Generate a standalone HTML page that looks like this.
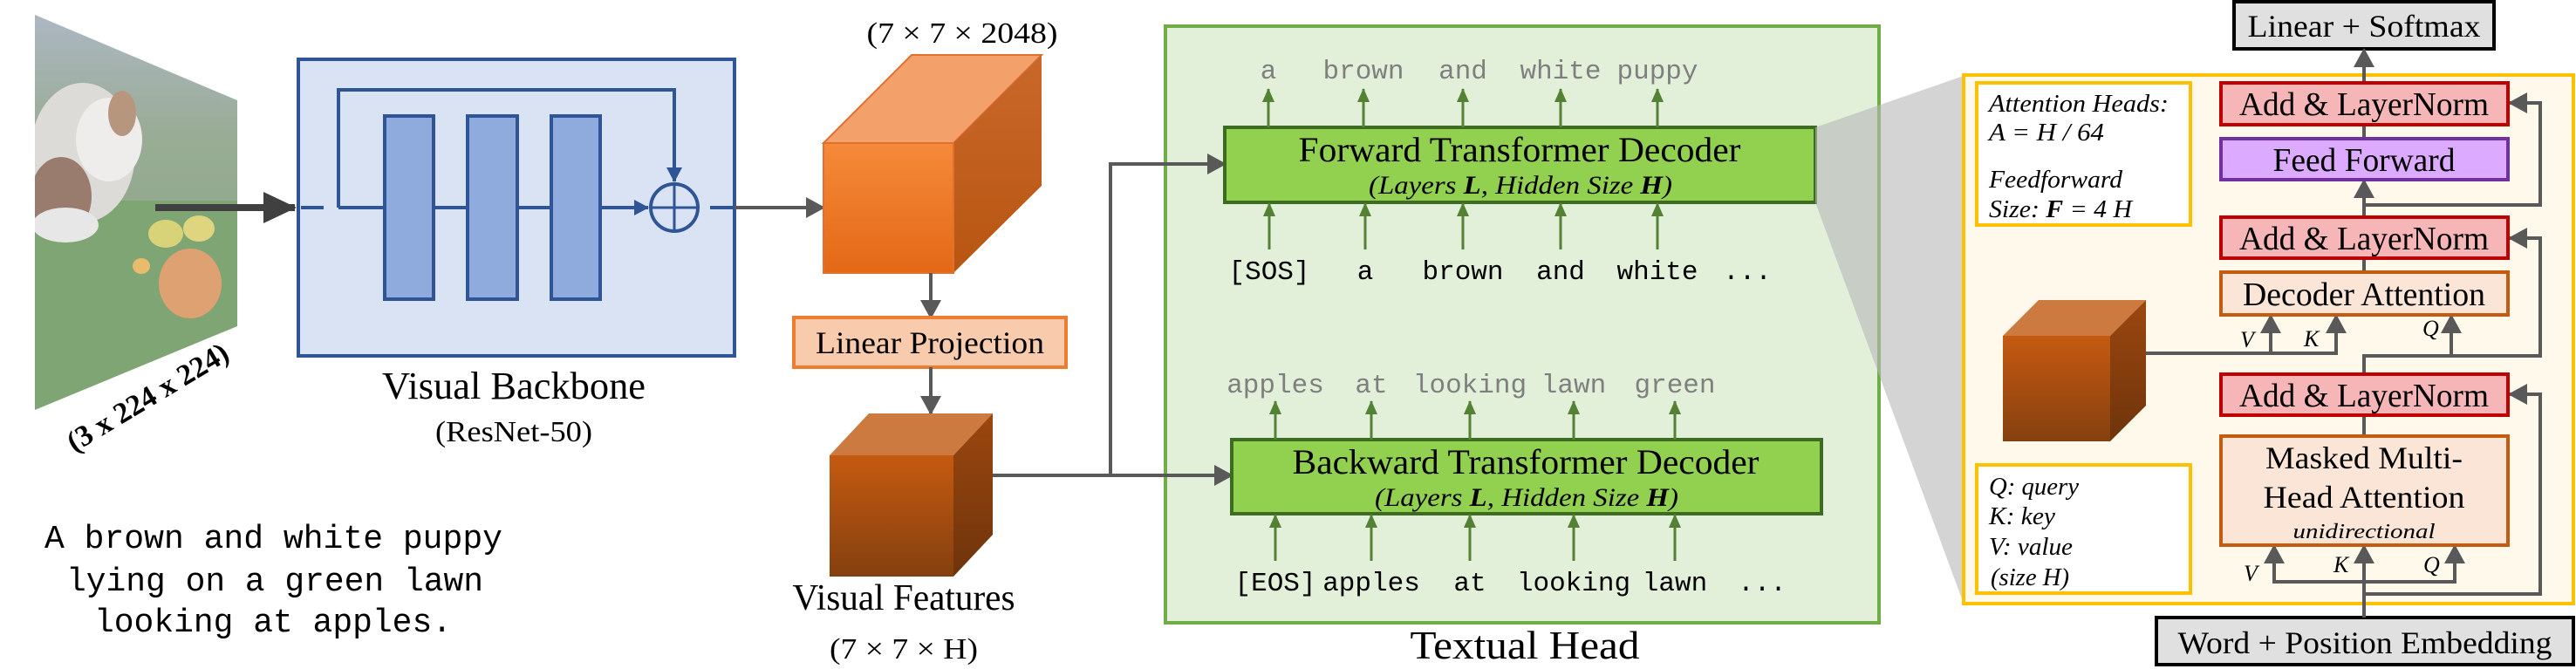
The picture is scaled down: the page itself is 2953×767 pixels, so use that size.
<!DOCTYPE html>
<html><head><meta charset="utf-8"><style>html,body{margin:0;padding:0;background:#fff}svg{display:block}</style></head>
<body>
<svg xmlns="http://www.w3.org/2000/svg" width="2953" height="767" viewBox="0 0 2953 767">
<defs>
<marker id="ag" markerUnits="userSpaceOnUse" markerWidth="24" markerHeight="24" refX="20" refY="12" orient="auto"><path d="M0,0 L22,12 L0,24 Z" fill="#595959"/></marker>
<marker id="ab" markerUnits="userSpaceOnUse" markerWidth="18" markerHeight="18" refX="16" refY="9" orient="auto"><path d="M0,0 L17,9 L0,18 Z" fill="#2f5597"/></marker>
<marker id="agn" markerUnits="userSpaceOnUse" markerWidth="16" markerHeight="16" refX="15" refY="8" orient="auto"><path d="M0,1 L16,8 L0,15 Z" fill="#548235"/></marker>
<marker id="abig" markerUnits="userSpaceOnUse" markerWidth="40" markerHeight="40" refX="36" refY="20" orient="auto"><path d="M0,2 L38,20 L0,38 Z" fill="#404040"/></marker>
<linearGradient id="cf1" x1="0" y1="0" x2="0" y2="1"><stop offset="0" stop-color="#f58a3a"/><stop offset="1" stop-color="#e36816"/></linearGradient>
<linearGradient id="cs1" x1="0" y1="0" x2="0" y2="1"><stop offset="0" stop-color="#c9682a"/><stop offset="1" stop-color="#b85512"/></linearGradient>
<linearGradient id="cf2" x1="0" y1="0" x2="0" y2="1"><stop offset="0" stop-color="#c55a11"/><stop offset="1" stop-color="#84400f"/></linearGradient>
<linearGradient id="cs2" x1="0" y1="0" x2="0" y2="1"><stop offset="0" stop-color="#9c470f"/><stop offset="1" stop-color="#6e340b"/></linearGradient>
<linearGradient id="sky" x1="0" y1="0" x2="0" y2="1"><stop offset="0" stop-color="#8a98a8"/><stop offset="0.3" stop-color="#6f8a6a"/><stop offset="1" stop-color="#4f7a45"/></linearGradient>
<clipPath id="pc"><polygon points="40,17 272,115 272,374 40,470"/></clipPath>
</defs>

<!-- photo -->
<g clip-path="url(#pc)" opacity="0.7">
<rect x="40" y="17" width="232" height="453" fill="url(#sky)"/>
<rect x="40" y="230" width="232" height="240" fill="#4a7f3a"/>
<ellipse cx="95" cy="175" rx="60" ry="80" fill="#cfccc8"/>
<ellipse cx="70" cy="225" rx="35" ry="45" fill="#6e4630"/>
<ellipse cx="125" cy="160" rx="38" ry="48" fill="#e8e6e4"/>
<ellipse cx="140" cy="130" rx="16" ry="26" fill="#9a6a48"/>
<ellipse cx="75" cy="258" rx="38" ry="20" fill="#dddddd"/>
<ellipse cx="190" cy="268" rx="20" ry="16" fill="#c8c040"/>
<ellipse cx="228" cy="262" rx="18" ry="15" fill="#d0c448"/>
<ellipse cx="218" cy="325" rx="36" ry="40" fill="#d07a36"/>
<ellipse cx="162" cy="305" rx="10" ry="9" fill="#e0a030"/>
</g>
<text transform="translate(175,465) rotate(-31)" text-anchor="middle" font-family="Liberation Serif, serif" font-weight="bold" font-size="34">(3 x 224 x 224)</text>

<!-- big arrow -->
<line x1="178" y1="238" x2="338" y2="238" stroke="#404040" stroke-width="8" marker-end="url(#abig)"/>

<!-- backbone -->
<rect x="342" y="68" width="500" height="340" fill="#dae3f3" stroke="#2f5597" stroke-width="4"/>
<line x1="345" y1="238" x2="371" y2="238" stroke="#2f5597" stroke-width="4"/>
<polyline points="388,238 388,103 773,103 773,208" fill="none" stroke="#2f5597" stroke-width="4" marker-end="url(#ab)"/>
<line x1="388" y1="238" x2="743" y2="238" stroke="#2f5597" stroke-width="4" marker-end="url(#ab)"/>
<rect x="441" y="133" width="56" height="210" fill="#8faadc" stroke="#2f5597" stroke-width="4"/>
<rect x="536" y="133" width="57" height="210" fill="#8faadc" stroke="#2f5597" stroke-width="4"/>
<rect x="632" y="133" width="56" height="210" fill="#8faadc" stroke="#2f5597" stroke-width="4"/>
<circle cx="773" cy="238" r="27" fill="#dae3f3" stroke="#2f5597" stroke-width="4"/>
<line x1="773" y1="211" x2="773" y2="265" stroke="#2f5597" stroke-width="3"/>
<line x1="746" y1="238" x2="800" y2="238" stroke="#2f5597" stroke-width="3"/>
<line x1="814" y1="238" x2="842" y2="238" stroke="#2f5597" stroke-width="4"/>
<line x1="842" y1="238" x2="944" y2="238" stroke="#595959" stroke-width="4" marker-end="url(#ag)"/>
<text x="589" y="457" text-anchor="middle" font-family="Liberation Serif, serif" font-size="44" textLength="302" lengthAdjust="spacingAndGlyphs">Visual Backbone</text>
<text x="589" y="506" text-anchor="middle" font-family="Liberation Serif, serif" font-size="34" textLength="180" lengthAdjust="spacingAndGlyphs">(ResNet-50)</text>

<!-- cube 1 -->
<text x="1103" y="49" text-anchor="middle" font-family="Liberation Serif, serif" font-size="34" textLength="219" lengthAdjust="spacingAndGlyphs">(7 × 7 × 2048)</text>
<polygon points="944,164 1093,164 1194,63 1045,63" fill="#f4a06a" stroke="#e07030" stroke-width="2"/>
<polygon points="1093,164 1194,63 1194,213 1093,313" fill="url(#cs1)"/>
<rect x="944" y="164" width="149" height="149" fill="url(#cf1)" stroke="#e07030" stroke-width="2"/>
<line x1="1067" y1="313" x2="1067" y2="364" stroke="#595959" stroke-width="4" marker-end="url(#ag)"/>
<rect x="910" y="364" width="312" height="57" fill="#f8cbad" stroke="#ed7d31" stroke-width="4"/>
<text x="1066" y="405" text-anchor="middle" font-family="Liberation Serif, serif" font-size="36" textLength="262" lengthAdjust="spacingAndGlyphs">Linear Projection</text>
<line x1="1067" y1="421" x2="1067" y2="474" stroke="#595959" stroke-width="4" marker-end="url(#ag)"/>

<!-- cube 2 -->
<polygon points="951,522 1093,522 1138,474 996,474" fill="#cd7a40"/>
<polygon points="1093,522 1138,474 1138,613 1093,661" fill="url(#cs2)"/>
<rect x="951" y="522" width="142" height="139" fill="url(#cf2)"/>
<text x="1036" y="699" text-anchor="middle" font-family="Liberation Serif, serif" font-size="42" textLength="255" lengthAdjust="spacingAndGlyphs">Visual Features</text>
<text x="1036" y="755" text-anchor="middle" font-family="Liberation Serif, serif" font-size="34" textLength="170" lengthAdjust="spacingAndGlyphs">(7 × 7 × H)</text>

<!-- caption -->
<g font-family="Liberation Mono, DejaVu Sans Mono, monospace" font-size="38" fill="#000">
<text x="51" y="628" textLength="525" lengthAdjust="spacingAndGlyphs">A brown and white puppy</text>
<text x="76" y="677" textLength="478" lengthAdjust="spacingAndGlyphs">lying on a green lawn</text>
<text x="108" y="724" textLength="410" lengthAdjust="spacingAndGlyphs">looking at apples.</text>
</g>

<!-- Textual head -->
<rect x="1336" y="30" width="818" height="684" fill="#e2efd9" stroke="#70ad47" stroke-width="4"/>
<text x="1748" y="755" text-anchor="middle" font-family="Liberation Serif, serif" font-size="46" textLength="263" lengthAdjust="spacingAndGlyphs">Textual Head</text>
<polyline points="1138,545 1273,545" fill="none" stroke="#595959" stroke-width="4"/>
<polyline points="1273,545 1273,188 1404,188" fill="none" stroke="#595959" stroke-width="4" marker-end="url(#ag)"/>
<line x1="1273" y1="545" x2="1412" y2="545" stroke="#595959" stroke-width="4" marker-end="url(#ag)"/>

<rect x="1404" y="146" width="677" height="86" fill="#92d050" stroke="#3d6b21" stroke-width="4"/>
<text x="1742" y="185" text-anchor="middle" font-family="Liberation Serif, serif" font-size="40" textLength="507" lengthAdjust="spacingAndGlyphs">Forward Transformer Decoder</text>
<text x="1743" y="222" text-anchor="middle" font-family="Liberation Serif, serif" font-style="italic" font-size="30" textLength="348" lengthAdjust="spacingAndGlyphs">(Layers <tspan font-weight="bold">L</tspan>, Hidden Size <tspan font-weight="bold">H</tspan>)</text>
<rect x="1412" y="504" width="676" height="85" fill="#92d050" stroke="#3d6b21" stroke-width="4"/>
<text x="1749" y="543" text-anchor="middle" font-family="Liberation Serif, serif" font-size="40" textLength="535" lengthAdjust="spacingAndGlyphs">Backward Transformer Decoder</text>
<text x="1750" y="580" text-anchor="middle" font-family="Liberation Serif, serif" font-style="italic" font-size="30" textLength="348" lengthAdjust="spacingAndGlyphs">(Layers <tspan font-weight="bold">L</tspan>, Hidden Size <tspan font-weight="bold">H</tspan>)</text>

<g stroke="#548235" stroke-width="3" marker-end="url(#agn)">
<line x1="1454" y1="146" x2="1454" y2="102"/><line x1="1563" y1="146" x2="1563" y2="102"/><line x1="1677" y1="146" x2="1677" y2="102"/><line x1="1789" y1="146" x2="1789" y2="102"/><line x1="1900" y1="146" x2="1900" y2="102"/>
<line x1="1455" y1="286" x2="1455" y2="233"/><line x1="1565" y1="286" x2="1565" y2="233"/><line x1="1677" y1="286" x2="1677" y2="233"/><line x1="1789" y1="286" x2="1789" y2="233"/><line x1="1900" y1="286" x2="1900" y2="233"/>
<line x1="1462" y1="504" x2="1462" y2="460"/><line x1="1572" y1="504" x2="1572" y2="460"/><line x1="1685" y1="504" x2="1685" y2="460"/><line x1="1804" y1="504" x2="1804" y2="460"/><line x1="1920" y1="504" x2="1920" y2="460"/>
<line x1="1462" y1="643" x2="1462" y2="590"/><line x1="1572" y1="643" x2="1572" y2="590"/><line x1="1685" y1="643" x2="1685" y2="590"/><line x1="1804" y1="643" x2="1804" y2="590"/><line x1="1920" y1="643" x2="1920" y2="590"/>
</g>
<g font-family="Liberation Mono, DejaVu Sans Mono, monospace" font-size="31" text-anchor="middle">
<g fill="#7f7f7f">
<text x="1454" y="90">a</text><text x="1563" y="90">brown</text><text x="1677" y="90">and</text><text x="1789" y="90">white</text><text x="1900" y="90">puppy</text>
<text x="1462" y="450">apples</text><text x="1572" y="450">at</text><text x="1685" y="450">looking</text><text x="1804" y="450">lawn</text><text x="1920" y="450">green</text>
</g>
<g fill="#000">
<text x="1455" y="320">[SOS]</text><text x="1565" y="320">a</text><text x="1677" y="320">brown</text><text x="1789" y="320">and</text><text x="1900" y="320">white</text><text x="2003" y="320">...</text>
<text x="1462" y="677">[EOS]</text><text x="1572" y="677">apples</text><text x="1685" y="677">at</text><text x="1804" y="677">looking</text><text x="1920" y="677">lawn</text><text x="2020" y="677">...</text>
</g>
</g>

<!-- zoom lens -->
<polygon points="2081,146 2251,87 2251,692 2081,232" fill="#b8b8b8" opacity="0.6"/>

<!-- decoder detail -->
<rect x="2251" y="86" width="699" height="606" fill="#fff9ec" stroke="#ffc000" stroke-width="4"/>
<rect x="2561" y="2" width="298" height="54" fill="#e0e0e0" stroke="#000" stroke-width="4"/>
<text x="2710" y="42" text-anchor="middle" font-family="Liberation Serif, serif" font-size="36" textLength="267" lengthAdjust="spacingAndGlyphs">Linear + Softmax</text>
<rect x="2472" y="708" width="478" height="54" fill="#e0e0e0" stroke="#000" stroke-width="4"/>
<text x="2711" y="749" text-anchor="middle" font-family="Liberation Serif, serif" font-size="36" textLength="429" lengthAdjust="spacingAndGlyphs">Word + Position Embedding</text>

<g fill="none" stroke="#595959" stroke-width="4">
<line x1="2710" y1="95" x2="2710" y2="57" marker-end="url(#ag)"/>
<line x1="2710" y1="159" x2="2710" y2="143"/>
<line x1="2710" y1="249" x2="2710" y2="207" marker-end="url(#ag)"/>
<polyline points="2710,235 2912,235 2912,118 2877,118" marker-end="url(#ag)"/>
<line x1="2710" y1="312" x2="2710" y2="296"/>
<polyline points="2710,429 2710,408 2810,408 2810,362" marker-end="url(#ag)"/>
<polyline points="2810,408 2912,408 2912,273 2877,273" marker-end="url(#ag)"/>
<line x1="2710" y1="500" x2="2710" y2="476"/>
<line x1="2710" y1="708" x2="2710" y2="626" marker-end="url(#ag)"/>
<polyline points="2710,681 2912,681 2912,452 2877,452" marker-end="url(#ag)"/>
<polyline points="2607,626 2607,667 2814,667 2814,626" marker-end="url(#ag)"/>
<line x1="2607" y1="640" x2="2607" y2="626" marker-end="url(#ag)"/>
<polyline points="2460,405 2678,405 2678,362" marker-end="url(#ag)"/>
<line x1="2603" y1="405" x2="2603" y2="362" marker-end="url(#ag)"/>
</g>

<g font-family="Liberation Serif, serif" text-anchor="middle">
<rect x="2546" y="95" width="329" height="48" fill="#f6b5b7" stroke="#c00000" stroke-width="4"/>
<text x="2710" y="132" font-size="38" textLength="286" lengthAdjust="spacingAndGlyphs">Add &amp; LayerNorm</text>
<rect x="2546" y="159" width="329" height="47" fill="#dcaaff" stroke="#7030a0" stroke-width="4"/>
<text x="2710" y="196" font-size="38" textLength="209" lengthAdjust="spacingAndGlyphs">Feed Forward</text>
<rect x="2546" y="249" width="329" height="47" fill="#f6b5b7" stroke="#c00000" stroke-width="4"/>
<text x="2710" y="286" font-size="38" textLength="286" lengthAdjust="spacingAndGlyphs">Add &amp; LayerNorm</text>
<rect x="2546" y="312" width="329" height="49" fill="#fbe5d6" stroke="#c55a11" stroke-width="4"/>
<text x="2710" y="350" font-size="38" textLength="278" lengthAdjust="spacingAndGlyphs">Decoder Attention</text>
<rect x="2546" y="429" width="329" height="47" fill="#f6b5b7" stroke="#c00000" stroke-width="4"/>
<text x="2710" y="466" font-size="38" textLength="286" lengthAdjust="spacingAndGlyphs">Add &amp; LayerNorm</text>
<rect x="2546" y="500" width="329" height="125" fill="#fbe5d6" stroke="#c55a11" stroke-width="4"/>
<text x="2710" y="537" font-size="36" textLength="226" lengthAdjust="spacingAndGlyphs">Masked Multi-</text>
<text x="2710" y="582" font-size="36" textLength="231" lengthAdjust="spacingAndGlyphs">Head Attention</text>
<text x="2710" y="617" font-size="24" font-style="italic" textLength="163" lengthAdjust="spacingAndGlyphs">unidirectional</text>
</g>

<!-- cube 3 -->
<polygon points="2296,385 2419,385 2460,344 2337,344" fill="#cd7a40"/>
<polygon points="2419,385 2460,344 2460,465 2419,506" fill="url(#cs2)"/>
<rect x="2296" y="385" width="123" height="121" fill="url(#cf2)"/>

<g font-family="Liberation Serif, serif" font-style="italic" font-size="26" fill="#000">
<text x="2568" y="398">V</text><text x="2641" y="397">K</text><text x="2777" y="385">Q</text>
<text x="2572" y="666">V</text><text x="2675" y="656">K</text><text x="2778" y="656">Q</text>
</g>

<rect x="2266" y="95" width="245" height="163" fill="#fff" stroke="#ffc000" stroke-width="4"/>
<g font-family="Liberation Serif, serif" font-style="italic" font-size="29">
<text x="2280" y="128" textLength="206" lengthAdjust="spacingAndGlyphs">Attention Heads:</text>
<text x="2280" y="161" textLength="132" lengthAdjust="spacingAndGlyphs">A = H / 64</text>
<text x="2280" y="215" textLength="153" lengthAdjust="spacingAndGlyphs">Feedforward</text>
<text x="2280" y="249" textLength="164" lengthAdjust="spacingAndGlyphs">Size: <tspan font-weight="bold">F</tspan> = 4 H</text>
</g>
<rect x="2266" y="533" width="245" height="147" fill="#fff" stroke="#ffc000" stroke-width="4"/>
<g font-family="Liberation Serif, serif" font-style="italic" font-size="29">
<text x="2280" y="567" textLength="103" lengthAdjust="spacingAndGlyphs">Q: query</text>
<text x="2280" y="601" textLength="76" lengthAdjust="spacingAndGlyphs">K: key</text>
<text x="2280" y="636" textLength="96" lengthAdjust="spacingAndGlyphs">V: value</text>
<text x="2282" y="671" textLength="90" lengthAdjust="spacingAndGlyphs">(size H)</text>
</g>
</svg>
</body></html>
